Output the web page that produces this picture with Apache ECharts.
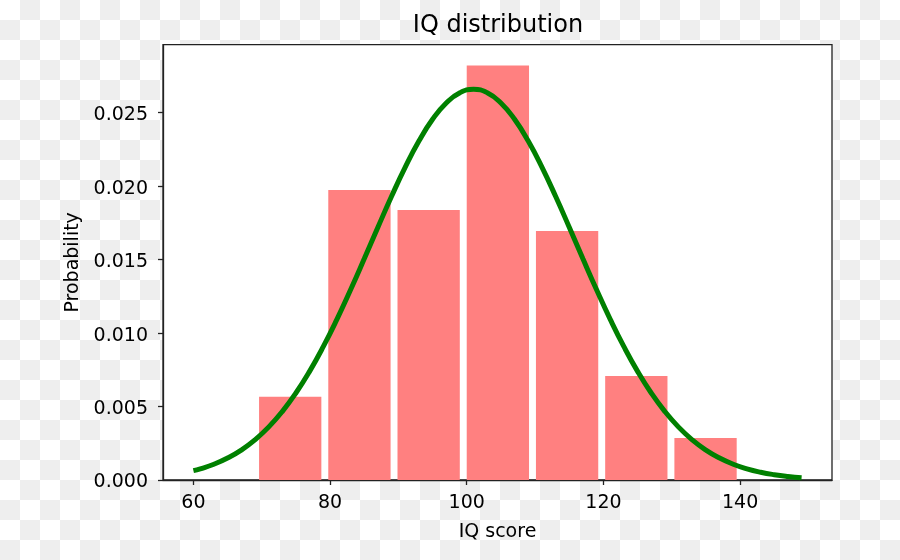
<!DOCTYPE html>
<html>
<head>
<meta charset="utf-8">
<script src="https://cdn.jsdelivr.net/npm/echarts@6/dist/echarts.min.js"></script>
<style>
  html, body { margin: 0; padding: 0; }
  body {
    width: 900px; height: 560px;
    background-color: #ffffff;
    background-image: conic-gradient(#eeeeee 0 25%, #ffffff 0 50%, #eeeeee 0 75%, #ffffff 0);
    background-size: 40px 40px;
  }
  #chart { width: 900px; height: 560px; }
</style>
</head>
<body>
<div id="chart"></div>
<script>
// Histogram bins (edges) and densities
const binEdges = [69.1, 79.23, 89.36, 99.49, 109.62, 119.75, 129.88, 140.01];
const densities = [0.00567, 0.01974, 0.01838, 0.02822, 0.01695, 0.00708, 0.00286];

// Fitted normal curve
const curveX = [60, 61, 63, 65, 67, 69, 71, 73, 75, 77, 79, 81, 83, 85, 87, 89, 91, 93, 95, 97, 99,
  101, 103, 105, 107, 109, 111, 113, 115, 117, 119, 121, 123, 125, 127, 129, 131, 133, 135, 137, 139,
  141, 143, 145, 147, 149];
const curveY = [0.000635, 0.000760, 0.001074, 0.001493, 0.002037, 0.002732, 0.003599, 0.004658, 0.005921,
  0.007395, 0.009073, 0.010934, 0.012946, 0.015057, 0.017205, 0.019313, 0.021297, 0.023070, 0.024551,
  0.025667, 0.026361, 0.026596, 0.026361, 0.025667, 0.024551, 0.023070, 0.021297, 0.019313, 0.017205,
  0.015057, 0.012946, 0.010934, 0.009073, 0.007395, 0.005921, 0.004658, 0.003599, 0.002732, 0.002037,
  0.001493, 0.001074, 0.000760, 0.000528, 0.000360, 0.000241, 0.000159];

// Tick labels
const xTicks = [60, 80, 100, 120, 140];
const yTicks = [0, 0.005, 0.010, 0.015, 0.020, 0.025];

const titleText = 'IQ distribution';
const xName = 'IQ score';
const yName = 'Probability';

const FONT = 'DejaVu Sans';
const AX = '#222222';

const histData = densities.map((d, i) => [binEdges[i], binEdges[i + 1], d]);
const lineData = curveX.map((x, i) => [x, curveY[i]]);

const chart = echarts.init(document.getElementById('chart'), null, { renderer: 'canvas' });
chart.setOption({
  backgroundColor: 'transparent',
  animation: false,
  title: {
    text: titleText,
    left: 493, top: 9,
    textAlign: 'center',
    textStyle: { fontFamily: FONT, fontSize: 24, fontWeight: 'normal', color: '#000' }
  },
  grid: {
    left: 163, right: 68, top: 44.7, bottom: 80,
    show: true, backgroundColor: '#ffffff', borderColor: AX, borderWidth: 1.3
  },
  xAxis: {
    type: 'value', min: 55.55, max: 153.45,
    name: xName, nameLocation: 'middle', nameGap: 43,
    nameTextStyle: { fontFamily: FONT, fontSize: 19, color: '#000' },
    axisLine: { show: true, lineStyle: { color: AX, width: 1.3 } },
    axisTick: { show: true, length: 5, lineStyle: { color: AX, width: 1.3 }, customValues: xTicks },
    axisLabel: { fontFamily: FONT, fontSize: 19, color: '#000', margin: 14, customValues: xTicks },
    splitLine: { show: false }
  },
  yAxis: {
    type: 'value', min: 0, max: 0.02963,
    name: yName, nameLocation: 'middle', nameGap: 77, nameRotate: 90,
    nameTextStyle: { fontFamily: FONT, fontSize: 19, color: '#000' },
    axisLine: { show: true, lineStyle: { color: AX, width: 1.3 } },
    axisTick: { show: true, length: 5, lineStyle: { color: AX, width: 1.3 }, customValues: yTicks },
    axisLabel: { fontFamily: FONT, fontSize: 19, color: '#000', margin: 15,
      verticalAlign: 'top', lineHeight: 5,
      customValues: yTicks, formatter: v => v.toFixed(3) },
    splitLine: { show: false }
  },
  series: [
    {
      type: 'custom',
      data: histData,
      z: 2,
      renderItem: function (params, api) {
        const x0 = api.value(0), x1 = api.value(1), h = api.value(2);
        const c = (x0 + x1) / 2, half = (x1 - x0) * 0.9 / 2;
        const p0 = api.coord([c - half, h]);
        const p1 = api.coord([c + half, 0]);
        return {
          type: 'rect',
          shape: { x: p0[0], y: p0[1], width: p1[0] - p0[0], height: p1[1] - p0[1] },
          style: { fill: '#ff8080' }
        };
      }
    },
    {
      type: 'line',
      data: lineData,
      z: 3,
      smooth: true,
      symbol: 'none',
      lineStyle: { color: '#008000', width: 5 }
    }
  ]
});
</script>
</body>
</html>
